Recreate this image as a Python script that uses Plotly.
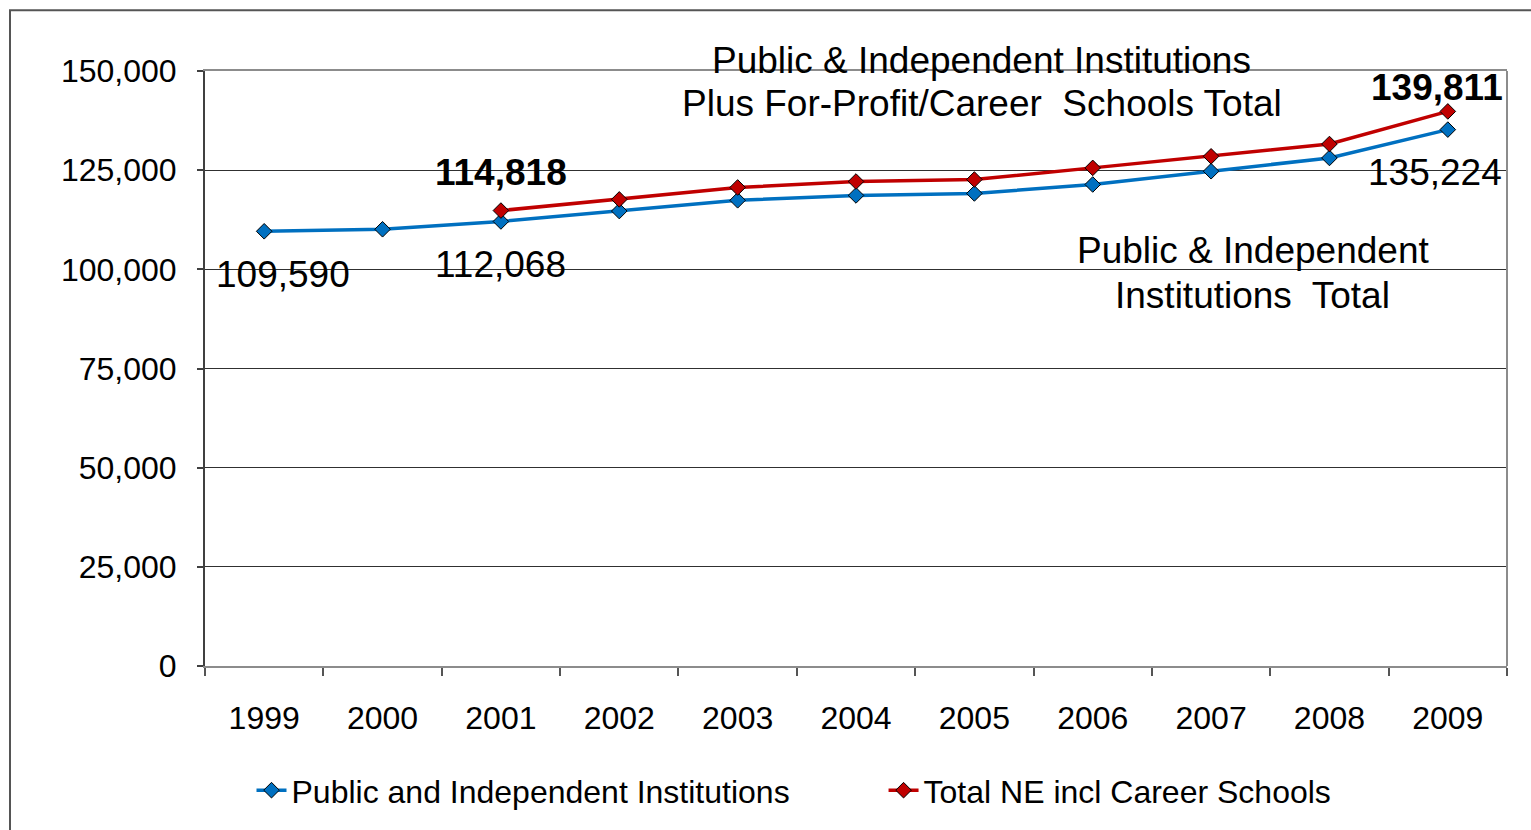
import plotly.graph_objects as go

years = ["1999", "2000", "2001", "2002", "2003", "2004", "2005", "2006", "2007", "2008", "2009"]
public_indep = [109590, 110100, 112068, 114690, 117400, 118630, 119130, 121390, 124730, 128080, 135224]
total_ne = [None, None, 114818, 117630, 120640, 122140, 122640, 125580, 128490, 131590, 139811]

BLUE = "#0070C0"
RED = "#C00000"
FONT = "Liberation Sans, Arial, sans-serif"

W, H = 1531, 830
L, R, T, B = 205, 24, 71, 161
PW, PH = W - L - R, H - T - B

def px_x(x):
    return (x - L) / PW

def px_y(y):
    return (H - B - y) / PH

fig = go.Figure()
fig.add_trace(go.Scatter(
    x=years, y=public_indep, mode="lines+markers",
    name="Public and Independent Institutions" + "\u00a0" * 10,
    line=dict(color=BLUE, width=3.5),
    marker=dict(symbol="diamond", size=12, color=BLUE, line=dict(color="black", width=1)),
))
fig.add_trace(go.Scatter(
    x=years, y=total_ne, mode="lines+markers",
    name="Total NE incl Career Schools",
    line=dict(color=RED, width=3.5),
    marker=dict(symbol="diamond", size=12, color=RED, line=dict(color="black", width=1)),
))

def label(idx, series, text, xs, ys):
    return dict(x=idx, y=series[idx], xref="x", yref="y", text=text, showarrow=False,
                xanchor="center", yanchor="middle", xshift=xs, yshift=ys, font=dict(size=37))

def note(text, cx, cy):
    return dict(x=px_x(cx), y=px_y(cy), xref="paper", yref="paper", text=text,
                showarrow=False, xanchor="center", yanchor="middle", font=dict(size=37))

annots = [
    label(0, public_indep, "109,590", 19, -43),
    label(2, public_indep, "112,068", 0, -43),
    label(2, total_ne, "<b>114,818</b>", 0, 38),
    label(10, total_ne, "<b>139,811</b>", -11, 24),
    label(10, public_indep, "135,224", -13, -43),
    note("Public &amp; Independent Institutions", 981, 60),
    note("Plus For-Profit/Career\u00a0 Schools Total", 982, 104),
    note("Public &amp; Independent", 1253, 251),
    note("Institutions\u00a0 Total", 1252, 297),
]

shapes = [
    dict(type="rect", xref="paper", yref="paper",
         x0=px_x(10), y0=px_y(10), x1=px_x(1545), y1=px_y(845),
         line=dict(color="#555555", width=2), fillcolor="rgba(0,0,0,0)", layer="below"),
    dict(type="line", xref="paper", yref="paper", x0=1, x1=1, y0=0, y1=1,
         line=dict(color="#8c8c8c", width=2)),
]

fig.update_layout(
    width=W, height=H,
    margin=dict(l=L, r=R, t=T, b=B),
    paper_bgcolor="white", plot_bgcolor="white",
    font=dict(family=FONT, size=32, color="black"),
    showlegend=True,
    legend=dict(orientation="h", x=px_x(794), xanchor="center", y=px_y(794), yanchor="middle",
                font=dict(size=32), bgcolor="rgba(0,0,0,0)", tracegroupgap=0),
    annotations=annots,
    shapes=shapes,
    xaxis=dict(type="category", tickson="boundaries", ticks="outside", ticklen=8,
               tickcolor="#555555", tickwidth=1.5, showline=True, linecolor="#8c8c8c", linewidth=2,
               mirror=True, showgrid=False, range=[-0.5, 10.5], ticklabelstandoff=23,
               tickfont=dict(size=32)),
    yaxis=dict(range=[0, 150000], dtick=25000, tickformat=",", ticks="outside", ticklen=6,
               tickcolor="#404040", tickwidth=1.5, showline=True, linecolor="#404040", linewidth=2,
               showgrid=True, gridcolor="#303030", gridwidth=1, zeroline=False,
               ticklabelstandoff=14, tickfont=dict(size=32)),
)

fig.write_html("out.html", config={"displayModeBar": False},
               post_script="document.body.style.margin='0';document.body.style.overflow='hidden';")
